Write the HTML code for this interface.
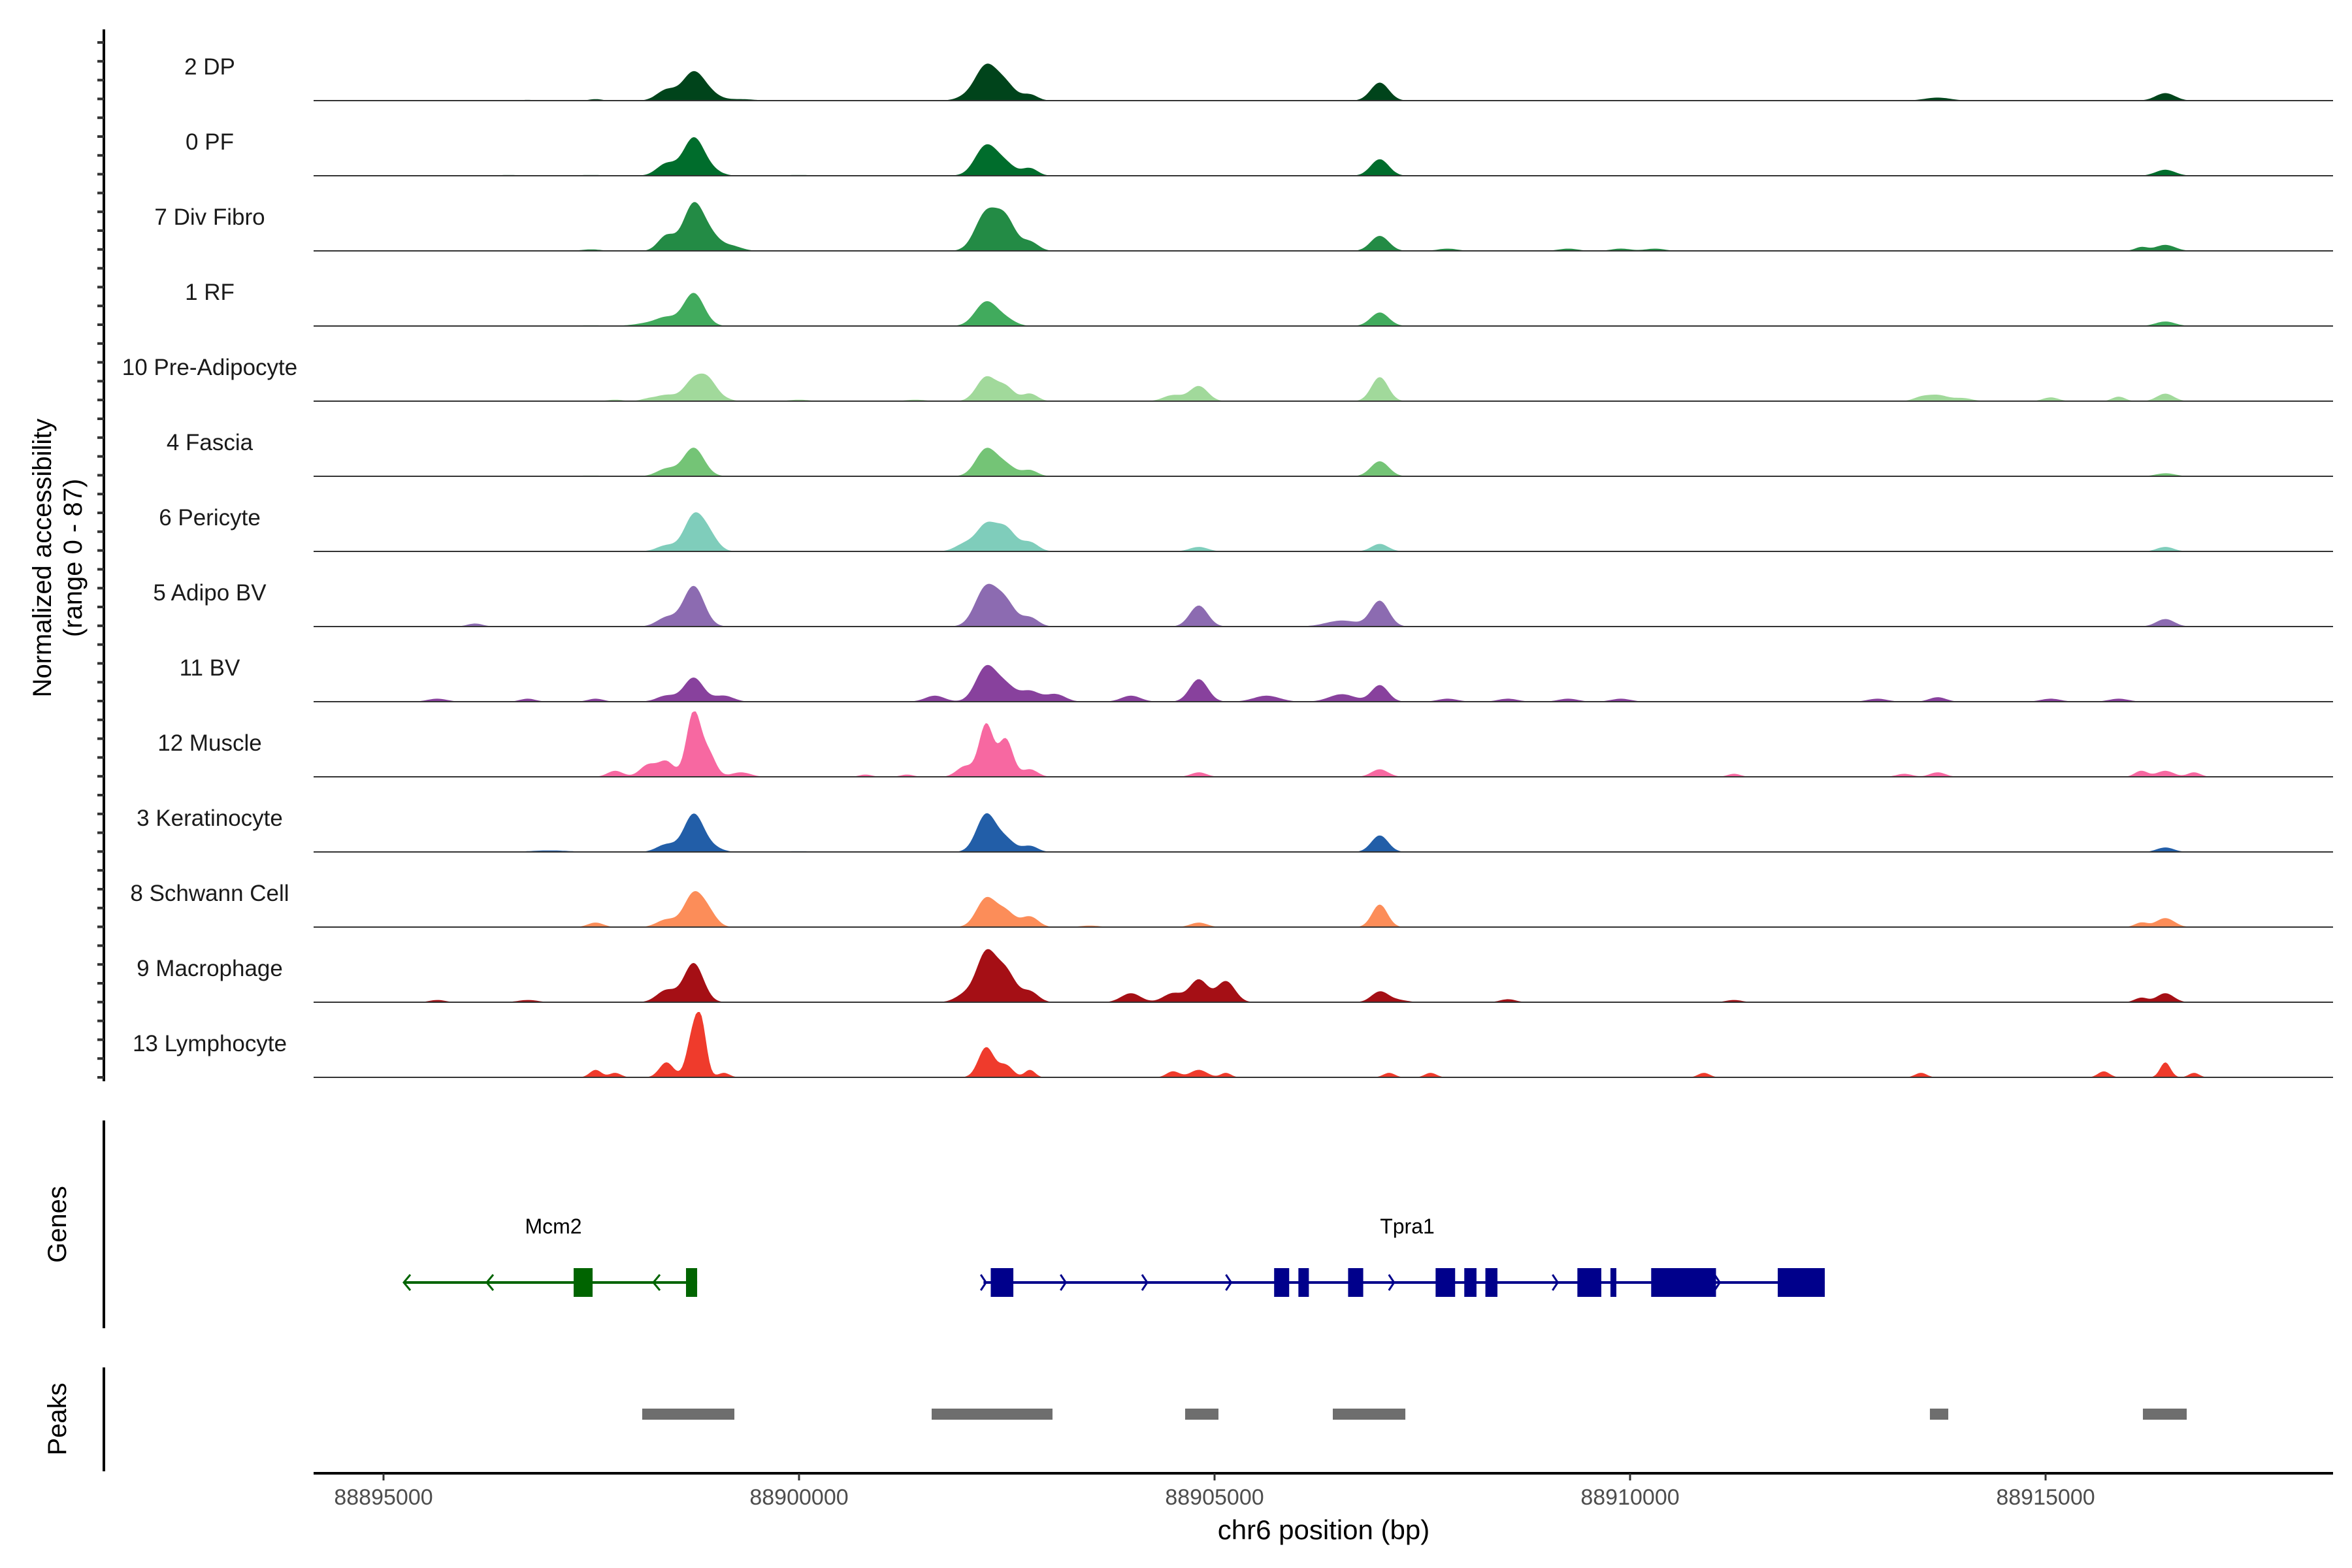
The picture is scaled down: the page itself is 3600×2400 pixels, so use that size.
<!DOCTYPE html>
<html><head><meta charset="utf-8">
<style>
html,body{margin:0;padding:0;background:#fff;}
svg{display:block;font-family:"Liberation Sans",Arial,sans-serif;}
</style></head>
<body>
<svg id="chart" width="3600" height="2400" viewBox="0 0 3600 2400" xmlns="http://www.w3.org/2000/svg">
<rect width="3600" height="2400" fill="#fff"/>
<g id="tracks"></g>
<g id="genes"></g>
<g id="peaks"></g>
<g id="axes"></g>
</svg>
<script>
const NS="http://www.w3.org/2000/svg";
const trackNames=["2 DP","0 PF","7 Div Fibro","1 RF","10 Pre-Adipocyte","4 Fascia","6 Pericyte","5 Adipo BV","11 BV","12 Muscle","3 Keratinocyte","8 Schwann Cell","9 Macrophage","13 Lymphocyte"];
const trackColors=["#00441b","#006d2c","#238b45","#41ab5d","#a1d99b","#74c476","#7fcdbb","#8c6bb1","#88419d","#f768a1","#225ea8","#fc8d59","#a50f15","#ef3b2c"];
// peaks per track: [offset bp from 88895000, height (0-87), half-width bp]
const peaksDP=[[2552,2,100],[3405,14,150],[3732,38,170],[3950,6,150],[7000,4,150],[7252,46,170],[7488,20,150],[7778,8,120],[11988,24,140],[18701,4,200],[21441,10,150],[1736,1,100],[4300,2,200]];
const peaksPF=[[3405,16,150],[3732,50,160],[3950,6,150],[7252,40,170],[7488,14,150],[7778,10,120],[11988,22,140],[21441,8,150],[1500,1,200],[2500,1,300],[5000,1,300]];
const peaksDiv=[[3405,20,130],[3732,62,160],[3950,16,150],[4200,6,150],[7252,50,170],[7488,40,150],[7778,12,130],[11988,20,140],[21441,8,150],[21151,5,100],[14891,3,150],[15300,3,150],[12804,3,150],[14256,3,150],[2500,2,150]];
const peaksRF=[[3187,4,200],[3405,10,150],[3732,44,160],[7252,32,170],[7488,8,150],[11988,18,140],[21441,6,150],[2500,1,300]];
const peaksPre=[[3405,8,150],[3732,28,150],[3913,24,130],[7252,32,150],[7488,18,130],[7778,10,120],[9810,20,140],[9500,8,150],[11988,32,130],[18701,8,150],[18500,5,120],[19000,4,150],[20062,5,120],[20879,6,100],[21441,10,130],[2788,2,120],[3187,3,120],[4095,3,120],[5000,2,150],[6400,2,150]];
const peaksFas=[[3405,10,150],[3732,38,160],[7252,36,160],[7488,14,150],[7778,8,120],[11988,20,140],[21441,4,150],[2500,1,300]];
const peaksPer=[[3405,8,150],[3732,46,150],[3913,20,140],[6998,10,150],[7252,34,150],[7488,30,150],[7778,12,130],[9810,6,140],[11988,10,130],[21441,6,130]];
const peaksABV=[[3405,12,150],[3732,54,160],[7252,52,170],[7488,30,150],[7778,12,130],[9810,28,140],[11534,8,250],[11988,34,140],[21441,10,140],[1101,4,120]];
const peaksBV=[[3405,8,150],[3732,32,150],[4095,8,150],[6635,8,150],[7252,46,160],[7488,20,150],[7778,14,150],[8087,10,150],[8994,8,150],[9810,30,140],[10627,8,200],[11534,10,200],[11988,22,130],[647,4,150],[1736,4,120],[2552,4,120],[18701,6,130],[17975,4,150],[20062,4,150],[20879,4,150],[14256,4,150],[14891,4,150],[12804,4,150],[13530,4,150]];
const peaksMus=[[3187,16,130],[3405,20,120],[3732,86,110],[3913,30,110],[4300,6,150],[6998,14,130],[7252,70,110],[7488,50,110],[7778,10,120],[11988,10,130],[9810,6,120],[2788,8,120],[21441,8,130],[21151,8,100],[18701,6,120],[18300,4,120],[21786,6,100],[16252,4,100],[5800,3,100],[6300,3,100]];
const peaksKer=[[3405,10,150],[3732,50,150],[3950,6,150],[7252,50,150],[7488,16,140],[7778,8,120],[11988,22,130],[21441,6,130],[2000,2,300],[5000,1,300]];
const peaksSch=[[3405,10,150],[3732,44,150],[3913,16,130],[7252,38,150],[7488,20,140],[7778,14,130],[9810,6,130],[11988,30,120],[21441,12,140],[21151,6,100],[2552,6,120],[8500,2,150]];
const peaksMac=[[3405,16,150],[3732,52,150],[7000,10,150],[7252,64,150],[7488,40,150],[7778,14,130],[8994,12,150],[9500,12,150],[9810,30,140],[10137,28,140],[11988,14,130],[21441,12,130],[21151,6,100],[13530,4,120],[12200,3,150],[647,3,120],[1736,3,150],[16252,3,120]];
const peaksLym=[[2552,10,90],[2788,6,90],[3405,20,110],[3732,60,100],[3830,54,80],[4095,6,90],[7252,40,120],[7488,16,110],[7778,10,80],[9810,10,130],[9500,8,100],[10137,6,80],[12100,6,90],[12600,6,90],[15889,6,90],[18500,6,90],[20700,8,90],[21441,20,80],[21786,6,80]];
const trackPeaks=[peaksDP,peaksPF,peaksDiv,peaksRF,peaksPre,peaksFas,peaksPer,peaksABV,peaksBV,peaksMus,peaksKer,peaksSch,peaksMac,peaksLym];
const genomeTicks=[88895000,88900000,88905000,88910000,88915000];
const mcm2Exons=[[88897288,88897516],[88898640,88898774]];
const tpra1Exons=[[88902307,88902579],[88905717,88905898],[88906009,88906135],[88906607,88906789],[88907660,88907895],[88908005,88908152],[88908259,88908404],[88909366,88909654],[88909764,88909835],[88910254,88911034],[88911777,88912343]];
const mcm2Range=[88895244,88898774];
const tpra1Range=[88902220,88912343];
const mcm2Arrows=[88895244,88896242,88898247];
const tpra1Arrows=[88902250,88903210,88904190,88905200,88906130,88907160,88909130,88911080];
const peakRegions=[[88898113,88899222],[88901596,88903050],[88904646,88905047],[88906423,88907296],[88913608,88913829],[88916171,88916698]];

const X0=88895000,PX0=587,PXPER=636/5000;
const xs=bp=>PX0+(bp-X0)*PXPER;
const base0=154,step=115,yScale=1.15;
function mk(tag,attrs,parent){const e=document.createElementNS(NS,tag);for(const k in attrs)e.setAttribute(k,attrs[k]);parent.appendChild(e);return e;}
const gT=document.getElementById('tracks');
trackNames.forEach((nm,i)=>{
  const by=base0+i*step;
  const pk=trackPeaks[i];
  let d=`M480,${by}`;
  for(let px=480;px<=3571;px+=3){
    const bp=X0+(px-PX0)/PXPER;let v=0;
    for(const p of pk){const z=(bp-(X0+p[0]))/p[2];if(Math.abs(z)<3)v+=p[1]*Math.exp(-z*z/1.2);}
    v=Math.min(v,87);
    d+=`L${px},${(by-v*yScale).toFixed(1)}`;
  }
  d+=`L3571,${by}Z`;
  const a=mk('path',{d:d,fill:trackColors[i]},gT);
  
  
  const l=mk('line',{x1:480,x2:3571,y1:by,y2:by,stroke:'#333','stroke-width':2},gT);
  
  
  const t=mk('text',{x:321,y:by-40,'font-size':35,'text-anchor':'middle',fill:'#1a1a1a'},gT);
  t.textContent=nm;
  
  
});
// genes
const gG=document.getElementById('genes');
const GY=1963;
function gene(range,exons,arrows,color,dir,name,lx){
  mk('line',{x1:xs(range[0]),x2:xs(range[1]),y1:GY,y2:GY,stroke:color,'stroke-width':4},gG);
  exons.forEach(e=>{const r=mk('rect',{x:xs(e[0]),y:GY-22,width:Math.max(6,xs(e[1])-xs(e[0])),height:44,fill:color},gG);
    });
  arrows.forEach(a=>{const x=xs(a);const p=mk('path',{d:dir<0?`M${x+10},${GY-12}L${x},${GY}L${x+10},${GY+12}`:`M${x-8},${GY-12}L${x},${GY}L${x-8},${GY+12}`,fill:'none',stroke:color,'stroke-width':3},gG);
    });
  const t=mk('text',{x:lx,y:1888,'font-size':32,'text-anchor':'middle',fill:'#000'},gG);t.textContent=name;
  
}
gene(mcm2Range,mcm2Exons,mcm2Arrows,'#006400',-1,'Mcm2',847);
gene(tpra1Range,tpra1Exons,tpra1Arrows,'#00008b',1,'Tpra1',2154);
// peaks
const gP=document.getElementById('peaks');
peakRegions.forEach(p=>{const r=mk('rect',{x:xs(p[0]),y:2156,width:xs(p[1])-xs(p[0]),height:17,fill:'#6e6e6e'},gP);
  });
// axes
const gA=document.getElementById('axes');
mk('line',{x1:159,x2:159,y1:45,y2:1655,stroke:'#000','stroke-width':4},gA);
for(let y=65;y<1655;y+=28.8){mk('line',{x1:149,x2:159,y1:y,y2:y,stroke:'#333','stroke-width':4},gA);}
mk('line',{x1:159,x2:159,y1:1715,y2:2033,stroke:'#000','stroke-width':4},gA);
mk('line',{x1:159,x2:159,y1:2093,y2:2252,stroke:'#000','stroke-width':4},gA);
mk('line',{x1:480,x2:3571,y1:2255,y2:2255,stroke:'#000','stroke-width':4},gA);
genomeTicks.forEach(t=>{const x=xs(t);
  mk('line',{x1:x,x2:x,y1:2255,y2:2266,stroke:'#333','stroke-width':3},gA);
  const tx=mk('text',{x:x,y:2303,'font-size':34,'text-anchor':'middle',fill:'#4d4d4d'},gA);tx.textContent=t;
  });
const xt=mk('text',{x:2026,y:2356,'font-size':42,'text-anchor':'middle',fill:'#000'},gA);xt.textContent='chr6 position (bp)';

const yt=mk('text',{transform:'translate(78,854) rotate(-90)','font-size':40,'text-anchor':'middle',fill:'#000'},gA);yt.textContent='Normalized accessibility';

const yt2=mk('text',{transform:'translate(125,854) rotate(-90)','font-size':40,'text-anchor':'middle',fill:'#000'},gA);yt2.textContent='(range 0 - 87)';

const gt=mk('text',{transform:'translate(101,1874) rotate(-90)','font-size':40,'text-anchor':'middle',fill:'#000'},gA);gt.textContent='Genes';

const pt=mk('text',{transform:'translate(101,2172) rotate(-90)','font-size':40,'text-anchor':'middle',fill:'#000'},gA);pt.textContent='Peaks';

</script>
</body></html>
